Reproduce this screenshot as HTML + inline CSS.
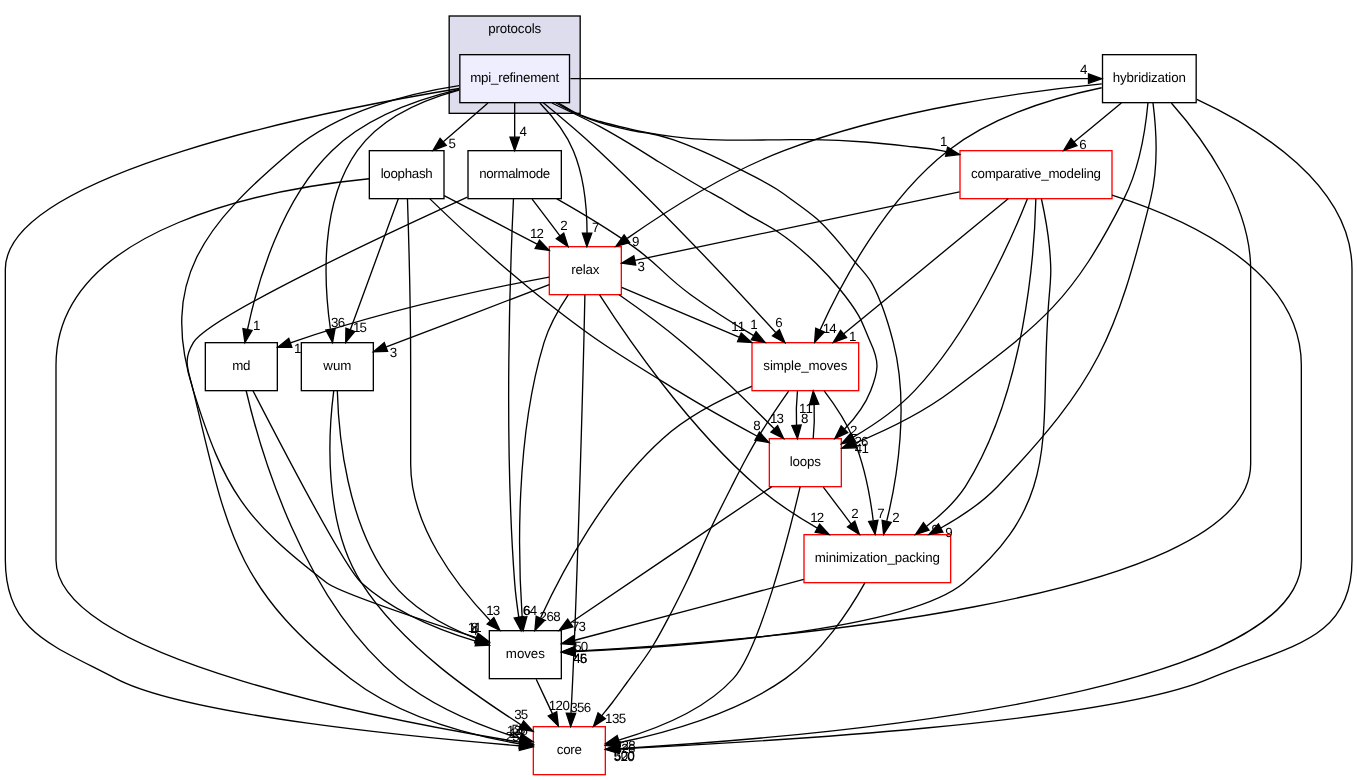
<!DOCTYPE html>
<html><head><meta charset="utf-8"><title>src/protocols/mpi_refinement</title>
<style>
html,body{margin:0;padding:0;background:#fff}
svg{display:block;will-change:transform}
text{text-rendering:geometricPrecision;font-family:"Liberation Sans",sans-serif;font-size:10px;text-anchor:middle;fill:#000}
path{fill:none;stroke:#000;stroke-width:1}
polygon{fill:#000;stroke:#000;stroke-width:1}
rect{stroke-width:1}
</style></head><body>
<svg width="1357" height="780" viewBox="0 0 1017.75 585">
<rect x="0" y="0" width="1017.75" height="585" fill="#fff" stroke="none"/>
<rect x="336.88" y="12" width="98.25" height="73" fill="#ddddee" stroke="#000"/>
<text x="386" y="24.5" textLength="39.75">protocols</text>
<rect x="344.88" y="41" width="82.25" height="36" fill="#eeeeff" stroke="black"/>
<text x="386" y="61.5" textLength="66.75">mpi_refinement</text>
<rect x="367" y="473" width="54" height="36" fill="#fff" stroke="black"/>
<text x="394" y="493.5" textLength="29.25">moves</text>
<rect x="351" y="113" width="70" height="36" fill="#fff" stroke="black"/>
<text x="386" y="133.5" textLength="53.25">normalmode</text>
<rect x="826.88" y="41" width="70.25" height="36" fill="#fff" stroke="black"/>
<text x="862" y="61.5" textLength="54.75">hybridization</text>
<rect x="577" y="329" width="54" height="36" fill="white" stroke="red"/>
<text x="604" y="349.5" textLength="23.25">loops</text>
<rect x="400" y="545" width="54" height="36" fill="white" stroke="red"/>
<text x="427" y="565.5" textLength="18.75">core</text>
<rect x="603" y="401" width="110" height="36" fill="white" stroke="red"/>
<text x="658" y="421.5" textLength="93.75">minimization_packing</text>
<rect x="226" y="257" width="54" height="36" fill="#fff" stroke="black"/>
<text x="253" y="277.5" textLength="21">wum</text>
<rect x="564" y="257" width="80" height="36" fill="white" stroke="red"/>
<text x="604" y="277.5" textLength="63">simple_moves</text>
<rect x="154" y="257" width="54" height="36" fill="#fff" stroke="black"/>
<text x="181" y="277.5" textLength="13.5">md</text>
<rect x="277" y="113" width="56" height="36" fill="#fff" stroke="black"/>
<text x="305" y="133.5" textLength="39">loophash</text>
<rect x="412" y="185" width="54" height="36" fill="white" stroke="red"/>
<text x="439" y="205.5" textLength="21">relax</text>
<rect x="720" y="113" width="114" height="36" fill="white" stroke="red"/>
<text x="777" y="133.5" textLength="97.5">comparative_modeling</text>
<!-- mpi to moves -->
<path d="M344.27,64.19C307.6,69.81 254.66,82.86 219,113 152.94,168.84 119.15,210.46 145,293 168.29,367.36 183.1,389.67 245,437 254.22,444.05 316.24,464.9 357.31,478.25"/>
<polygon points="358.56,474.98 367,481.39 356.4,481.64 358.56,474.98"/>
<text x="356.02" y="473.67" textLength="10.5">11</text>
<!-- mpi to normalmode -->
<path d="M386,77.3C386,85.02 386,94.29 386,102.89"/>
<polygon points="389.5,102.9 386,112.9 382.5,102.9 389.5,102.9"/>
<text x="392.34" y="101.8">4</text>
<!-- mpi to hyb -->
<path d="M427.84,59C557.31,59 686.79,59 816.27,59"/>
<polygon points="816.39,55.5 826.38,59 816.38,62.5 816.39,55.5"/>
<text x="812.79" y="55.16">4</text>
<!-- mpi to loops -->
<path d="M414,77.25C426,83.15 438.25,88.58 450,94.95 457.48,99.01 464.83,103.32 472.12,107.7 479.58,112.17 486.84,116.95 494.25,121.5 505.23,128.24 516.21,134.99 527.4,141.38 532.52,144.3 537.75,147.04 542.85,150 548.82,153.46 554.61,157.21 560.55,160.73 568.07,165.17 576.05,168.93 583.28,173.77 593.61,180.71 603.22,188.94 612.15,197.62 618.22,203.53 624.05,209.8 629.4,216.38 634.61,222.79 639.81,229.39 643.88,236.55 647.54,243.01 649.84,250.24 653,257 659.77,271.5 658.83,278.1 653,293 648.8,303.72 641.31,313.57 633.42,321.8"/>
<polygon points="635.76,324.41 626.15,328.87 630.88,319.39 635.76,324.41"/>
<text x="640.32" y="326.43">2</text>
<!-- mpi to core -->
<path d="M344.39,66.38C245.39,82.74 4,130.01 4,202 4,202 4,202 4,420 4,474.09 39.18,483.72 87,509 139.89,536.96 316.45,553.32 389.43,559.34"/>
<polygon points="390.05,555.88 399.76,560.12 389.52,562.86 390.05,555.88"/>
<text x="384.45" y="555.67" textLength="10.5">25</text>
<!-- mpi to mp -->
<path d="M417,77.25C422.38,80.05 427.6,83.18 433.12,85.65 438.6,88.1 444.28,90.2 450,92.03 457.23,94.33 464.7,95.89 472.12,97.5 479.45,99.09 487,99.74 494.25,101.62 497.96,102.59 501.64,103.72 505.28,104.93 512.81,107.42 520.12,110.61 527.4,113.77 536.76,117.84 545.91,122.42 555,127.05 564.34,131.81 573.9,136.27 582.67,141.98 586.56,144.51 590.31,147.27 594.08,150 600.2,154.44 606.47,158.78 612.15,163.73 623.18,173.32 632.01,185.37 641.4,196.65 645.31,201.35 649.73,205.75 652.95,210.9 656.02,215.81 658.25,221.33 660.45,226.73 662.45,231.62 664.11,236.68 665.7,241.73 667.29,246.77 668.67,251.88 670,257 681.87,302.81 673.12,358.26 665.07,390.68"/>
<polygon points="668.4,391.81 662.71,400.75 661.59,390.21 668.4,391.81"/>
<text x="671.99" y="391.46">2</text>
<!-- mpi to wum -->
<path d="M344.23,67.64C317.96,74.75 285.77,88.16 268,113 239.78,152.46 242.83,212 247.78,246.54"/>
<polygon points="251.3,246.39 249.42,256.82 244.39,247.49 251.3,246.39"/>
<text x="253.54" y="244.89" textLength="10.5">36</text>
<!-- mpi to sm -->
<path d="M407.48,77.13C419.89,87.25 435.64,100.5 449,113 498.38,159.17 552.34,217.07 581.78,249.35"/>
<polygon points="584.58,247.23 588.71,256.98 579.4,251.94 584.58,247.23"/>
<text x="584.26" y="245.16">6</text>
<!-- mpi to md -->
<path d="M344.47,67.1C314.58,74.14 275.09,87.7 249,113 210.91,149.95 193.12,211.56 185.68,246.89"/>
<polygon points="189.06,247.82 183.69,256.96 182.2,246.47 189.06,247.82"/>
<text x="192.55" y="247.35">1</text>
<!-- mpi to loophash -->
<path d="M365.98,77.3C355.87,86.03 343.46,96.76 332.48,106.25"/>
<polygon points="334.65,109.01 324.79,112.9 330.07,103.71 334.65,109.01"/>
<text x="339.22" y="111.3">5</text>
<!-- mpi to relax -->
<path d="M404.91,77.3C414.1,86.88 424.36,99.54 430,113 438.19,132.54 440.21,156.54 440.3,174.69"/>
<polygon points="443.8,174.93 440.16,184.88 436.8,174.83 443.8,174.93"/>
<text x="446.69" y="173.87">7</text>
<!-- mpi to cm -->
<path d="M418.88,77.25C423.53,79.9 427.98,82.97 432.83,85.2 438.3,87.72 444.21,89.38 450,91.12 457.27,93.31 464.71,94.94 472.12,96.6 479.46,98.24 486.83,99.82 494.25,101.02 501.56,102.21 508.93,103.15 516.3,103.8 523.65,104.45 531.05,104.71 538.42,104.93 545.8,105.14 553.18,105.08 560.55,105.07 568.7,105.07 576.85,104.91 585,104.85 593.37,104.79 601.75,104.58 610.12,104.7 623.01,104.89 635.9,105.53 648.75,106.5 659.12,107.28 669.47,108.38 679.8,109.57 688.55,110.59 697.36,111.29 706,113 707.26,113.25 708.53,113.52 709.81,113.78"/>
<polygon points="710.69,110.39 719.73,115.92 709.21,117.23 710.69,110.39"/>
<text x="707.77" y="109.36">1</text>
<!-- loophash to moves -->
<path d="M305.59,149.05C306.47,175.7 308,228.88 308,274 308,274 308,274 308,348 308,394.69 342.44,439.16 367.73,465.51"/>
<polygon points="370.37,463.2 374.91,472.77 365.39,468.12 370.37,463.2"/>
<text x="369.86" y="461.15" textLength="10.5">13</text>
<!-- loophash to loops -->
<path d="M322.42,149.16C341.53,167.67 373.44,197.62 403,221 447.38,256.1 459.84,263.29 508,293 527.32,304.92 549.46,317.23 567.61,326.98"/>
<polygon points="569.53,324.04 576.7,331.84 566.23,330.21 569.53,324.04"/>
<text x="567.69" y="322.34">8</text>
<!-- loophash to core -->
<path d="M276.85,134.09C209.01,140.82 42,168.14 42,274 42,274 42,274 42,420 42,494.65 297.48,541.48 389.89,556.63"/>
<polygon points="390.53,553.18 399.89,558.15 389.47,560.1 390.53,553.18"/>
<text x="388.12" y="551.55" textLength="15.75">126</text>
<!-- loophash to wum -->
<path d="M298.73,149.13C289.79,173.54 273.3,218.57 262.75,247.36"/>
<polygon points="266.02,248.62 259.29,256.81 259.45,246.22 266.02,248.62"/>
<text x="269.92" y="248.72" textLength="10.5">15</text>
<!-- loophash to relax -->
<path d="M333.09,146.67C353.37,157.27 380.93,171.66 402.85,183.12"/>
<polygon points="404.62,180.09 411.86,187.82 401.38,186.3 404.62,180.09"/>
<text x="402.75" y="178.41" textLength="10.5">12</text>
<!-- normalmode to moves -->
<path d="M385.1,149.23C382.86,195.74 377.8,327.7 386,437 386.64,445.48 387.84,454.66 389.12,462.96"/>
<polygon points="392.58,462.45 390.75,472.89 385.68,463.59 392.58,462.45"/>
<text x="394.8" y="460.95">6</text>
<!-- normalmode to core -->
<path d="M350.55,147.91C286.44,177.02 156.75,237.67 145,257 136.69,270.67 141.28,277.44 145,293 170.43,399.39 176.45,442.1 263,509 301.75,538.95 357.3,552.15 389.45,557.85"/>
<polygon points="390.34,554.44 399.74,559.32 389.34,561.37 390.34,554.44"/>
<text x="387.18" y="553.62" textLength="10.5">18</text>
<!-- normalmode to sm -->
<path d="M417.66,149.21C435.02,159.05 456.67,171.99 475,185 495.33,199.42 497.78,206.42 518,221 532.98,231.8 550.2,242.69 565.27,251.76"/>
<polygon points="567.06,248.75 573.86,256.88 563.48,254.77 567.06,248.75"/>
<text x="565.42" y="246.97">1</text>
<!-- normalmode to relax -->
<path d="M399.1,149.3C405.39,157.61 413.05,167.72 419.96,176.86"/>
<polygon points="422.8,174.81 426.05,184.9 417.22,179.04 422.8,174.81"/>
<text x="422.9" y="172.73">2</text>
<!-- md to moves -->
<path d="M189.72,293.02C209.9,332.19 258.99,426.17 271,437 295.57,459.17 330.84,473.07 357.31,481.04"/>
<polygon points="358.34,477.69 366.99,483.81 356.41,484.42 358.34,477.69"/>
<text x="355.66" y="476.47">4</text>
<!-- md to core -->
<path d="M184.62,293.05C194.67,336.13 227.06,450.13 299,509 327.01,531.92 364.84,545.92 389.77,553.72"/>
<polygon points="390.98,550.42 399.77,556.32 389.22,557.2 390.98,550.42"/>
<text x="388.88" y="550.2" textLength="10.5">58</text>
<!-- wum to moves -->
<path d="M252.99,293.24C253.85,325.03 259.86,393.58 294,437 309.9,457.22 335.7,470.63 357.11,478.89"/>
<polygon points="358.38,475.63 366.59,482.34 355.99,482.21 358.38,475.63"/>
<text x="355.98" y="474.24">8</text>
<!-- wum to core -->
<path d="M250.3,293.11C246.29,324.39 242.07,391.74 271,437 302.01,485.51 358.6,522.86 390.8,543.63"/>
<polygon points="392.7,540.68 399.8,548.55 389.34,546.82 392.7,540.68"/>
<text x="390.91" y="538.96" textLength="10.5">35</text>
<!-- relax to moves -->
<path d="M426.15,221.18C419.47,231.11 411.9,244.15 408,257 386.25,328.68 388.61,418.31 391.6,462.61"/>
<polygon points="395.11,462.63 392.36,472.86 388.13,463.14 395.11,462.63"/>
<text x="397.68" y="461.33" textLength="10.5">64</text>
<!-- relax to loops -->
<path d="M464.32,221.07C478.68,231.07 496.77,244.21 512,257 536.42,277.51 562.37,302.99 580.46,321.42"/>
<polygon points="583.24,319.25 587.71,328.86 578.22,324.14 583.24,319.25"/>
<text x="582.76" y="317.2" textLength="10.5">13</text>
<!-- relax to core -->
<path d="M438.66,221.27C437.54,278.81 432.31,464.34 428.23,534.65"/>
<polygon points="431.73,534.98 428.03,544.91 424.73,534.84 431.73,534.98"/>
<text x="435.53" y="534.3" textLength="15.75">356</text>
<!-- relax to mp -->
<path d="M449.7,221.23C469.88,252.7 516.18,320.34 568,365 581.72,376.87 598.03,387.52 612.99,396.1"/>
<polygon points="614.74,393.07 621.87,400.91 611.41,399.23 614.74,393.07"/>
<text x="612.94" y="391.36" textLength="10.5">12</text>
<!-- relax to wum -->
<path d="M411.95,213.48C379.72,225.81 325.71,246.48 289.72,260.18"/>
<polygon points="290.67,263.56 280.08,263.81 288.2,257.01 290.67,263.56"/>
<text x="295.03" y="267.45">3</text>
<!-- relax to sm -->
<path d="M466.25,215.56C490.09,225.68 525.34,240.63 554.21,252.88"/>
<polygon points="555.9,249.79 563.74,256.92 553.16,256.23 555.9,249.79"/>
<text x="553.7" y="248.27" textLength="10.5">11</text>
<!-- relax to md -->
<path d="M411.83,207.81C371.2,215.38 292.24,231.61 217.8,257.09"/>
<polygon points="218.87,260.42 208.27,260.41 216.56,253.81 218.87,260.42"/>
<text x="223.2" y="264.42">1</text>
<!-- sm to moves -->
<path d="M563.78,289.84C542.26,298.66 516.3,311.7 497,329 453.82,367.7 421.6,428.59 405.49,463.34"/>
<polygon points="408.51,465.15 401.2,472.82 402.14,462.26 408.51,465.15"/>
<text x="412.58" y="465.55" textLength="15.75">268</text>
<!-- sm to loops -->
<path d="M598.08,293.3C597.29,301.02 597.06,310.29 597.4,318.89"/>
<polygon points="600.9,318.68 598.1,328.9 593.92,319.16 600.9,318.68"/>
<text x="603.48" y="317.39">8</text>
<!-- sm to core -->
<path d="M591.48,293.34C584.31,303.53 575.31,316.78 568,329 564.86,334.25 561.9,339.62 558.97,345 555.26,351.85 551.78,358.83 548.25,365.77 543.03,376.05 537.82,386.34 532.88,396.75 527,409.13 521.92,421.89 516,434.25 511.89,442.82 507.67,451.34 503.25,459.75 498.8,468.22 494.42,476.76 489.38,484.88 483.56,494.23 476.71,502.94 470.25,511.88 466.53,517.02 462.89,522.23 459,527.25 456.48,530.5 453.85,533.65 451.28,536.85"/>
<polygon points="448.52,534.7 445.12,544.73 454.03,539 448.52,534.7"/>
<text x="461.7" y="541.95" textLength="15.75">135</text>
<!-- sm to mp -->
<path d="M618.16,293.15C625.69,303.07 634.5,316.11 640,329 648.41,348.71 652.7,372.51 654.93,390.54"/>
<polygon points="658.43,390.29 656.3,400.67 651.49,391.24 658.43,390.29"/>
<text x="660.76" y="388.85">7</text>
<!-- loops to moves -->
<path d="M578.67,365.13C540.99,390.61 470.09,438.55 427.95,467.04"/>
<polygon points="429.67,470.11 419.42,472.81 425.74,464.31 429.67,470.11"/>
<text x="434.23" y="472.95" textLength="10.5">73</text>
<!-- loops to core -->
<path d="M600.09,365.16C591.4,402.03 569.7,487.26 550,509 528.58,532.54 491.64,547.08 464.03,555.07"/>
<polygon points="464.73,558.51 454.16,557.76 462.88,551.76 464.73,558.51"/>
<text x="468.94" y="562.8" textLength="15.75">228</text>
<!-- loops to mp -->
<path d="M617.48,365.3C623.73,373.61 631.36,383.72 638.25,392.86"/>
<polygon points="641.13,390.87 644.56,400.9 635.63,395.19 641.13,390.87"/>
<text x="641.15" y="388.79">2</text>
<!-- loops to sm -->
<path d="M609.9,328.9C610.7,321.21 610.94,311.95 610.6,303.33"/>
<polygon points="607.11,303.52 609.92,293.3 614.09,303.04 607.11,303.52"/>
<text x="604.52" y="309.8" textLength="10.5">11</text>
<!-- mp to moves -->
<path d="M602.77,434.59C551.98,448.27 475.99,468.34 431.1,480.2"/>
<polygon points="431.76,483.65 421.2,482.82 429.97,476.88 431.76,483.65"/>
<text x="435.96" y="487.97" textLength="10.5">50</text>
<!-- mp to core -->
<path d="M648.64,437.21C637.53,457.19 616.14,489.83 589,509 552.59,534.72 500.17,549.39 464.04,557.07"/>
<polygon points="464.63,560.52 454.14,559.04 463.27,553.65 464.63,560.52"/>
<text x="468.71" y="565.1" textLength="15.75">326</text>
<!-- moves to core -->
<path d="M402.15,509.47C406.23,518.12 410.3,526.77 414.38,535.42"/>
<polygon points="411.23,536.96 418.76,544.41 417.52,533.89 411.23,536.96"/>
<text x="419.47" y="532.5" textLength="15.75">120</text>
<!-- cm to moves -->
<path d="M781.06,149.07C783.31,159.4 785.87,172.88 787,185 788.49,200.93 788.43,205.06 787,221 778.07,320.73 799.9,372.88 723,437 679.24,473.49 508.03,485.21 431.41,488.67"/>
<polygon points="431.4,492.17 421.25,489.1 431.1,485.18 431.4,492.17"/>
<text x="435.11" y="497.35" textLength="10.5">45</text>
<!-- cm to loops -->
<path d="M770.51,149.24C758.01,180.71 728.06,248.37 686,293 672.88,306.92 655.39,318.87 639.94,327.88"/>
<polygon points="641.55,330.98 631.12,332.83 638.12,324.88 641.55,330.98"/>
<text x="646.08" y="334.2" textLength="10.5">26</text>
<!-- cm to core -->
<path d="M834.03,146.36C892.83,164.99 976,203.76 976,274 976,274 976,274 976,420 976,524.92 592.35,553.76 464.42,561.41"/>
<polygon points="464.52,564.91 454.35,561.93 464.16,557.92 464.52,564.91"/>
<text x="468.25" y="570.06" textLength="15.75">500</text>
<!-- cm to mp -->
<path d="M776.89,149.27C775.86,190.03 768.7,294.12 724,365 716.52,376.37 705.71,386.43 694.94,394.65"/>
<polygon points="696.75,397.67 686.64,400.84 692.57,392.06 696.75,397.67"/>
<text x="701.33" y="400.3">9</text>
<!-- cm to sm -->
<path d="M756.13,149.13C725.35,174.4 667.66,221.75 632.85,250.32"/>
<polygon points="634.89,253.17 624.94,256.81 630.45,247.76 634.89,253.17"/>
<text x="639.47" y="255.59">1</text>
<!-- cm to relax -->
<path d="M719.66,143.88C650.19,158.55 535.15,182.85 476.26,195.28"/>
<polygon points="476.78,198.75 466.28,197.35 475.36,191.9 476.78,198.75"/>
<text x="480.88" y="203.3">3</text>
<!-- hyb to moves -->
<path d="M878.49,77.23C900.84,102.47 938,151.95 938,202 938,202 938,202 938,348 938,452.92 554.35,481.76 431.42,488.31"/>
<polygon points="431.52,491.81 421.35,488.83 431.16,484.82 431.52,491.81"/>
<text x="435.25" y="496.96" textLength="10.5">46</text>
<!-- hyb to loops -->
<path d="M860.95,77.27C859.24,95.87 854.74,125.9 843,149 804.05,225.59 782.68,241.37 714,293 691.71,309.76 663.29,323.28 640.92,332.48"/>
<polygon points="642.01,335.81 631.42,336.27 639.41,329.31 642.01,335.81"/>
<text x="646.4" y="339.62" textLength="10.5">41</text>
<!-- hyb to core -->
<path d="M897.64,74.49C942.56,95.4 1014,138.62 1014,202 1014,202 1014,202 1014,420 1014,481.86 963.91,484.77 907,509 828.09,542.59 566.9,556.49 464.26,561.7"/>
<polygon points="464.39,565.2 454.25,562.11 464.1,558.2 464.39,565.2"/>
<text x="468.1" y="570.39" textLength="15.75">520</text>
<!-- hyb to mp -->
<path d="M864.72,77.03C867.03,95.16 869.1,124.56 863,149 836.66,254.52 823.04,286.28 748,365 736.17,377.29 720.53,387.72 705.61,396"/>
<polygon points="707.17,399.14 696.71,400.87 703.81,393 707.17,399.14"/>
<text x="711.68" y="402.4">9</text>
<!-- hyb to sm -->
<path d="M826.23,65.83C793.49,72.62 745.11,86.48 711,113 664.26,149.34 631.13,212.05 615.04,247.53"/>
<polygon points="618.2,249.04 610.96,256.77 611.8,246.21 618.2,249.04"/>
<text x="622.25" y="249.4" textLength="10.5">14</text>
<!-- hyb to relax -->
<path d="M826.32,62.93C772.97,68.18 669.93,81.72 588,113 544.63,129.56 499.5,158.42 470.43,178.78"/>
<polygon points="472.13,181.87 461.95,184.8 468.08,176.16 472.13,181.87"/>
<text x="476.7" y="184.6">9</text>
<!-- hyb to cm -->
<path d="M840.99,77.3C830.28,86.12 817.11,96.97 805.5,106.53"/>
<polygon points="807.71,109.24 797.77,112.9 803.26,103.84 807.71,109.24"/>
<text x="812.29" y="111.65">6</text>
</svg>
</body></html>
